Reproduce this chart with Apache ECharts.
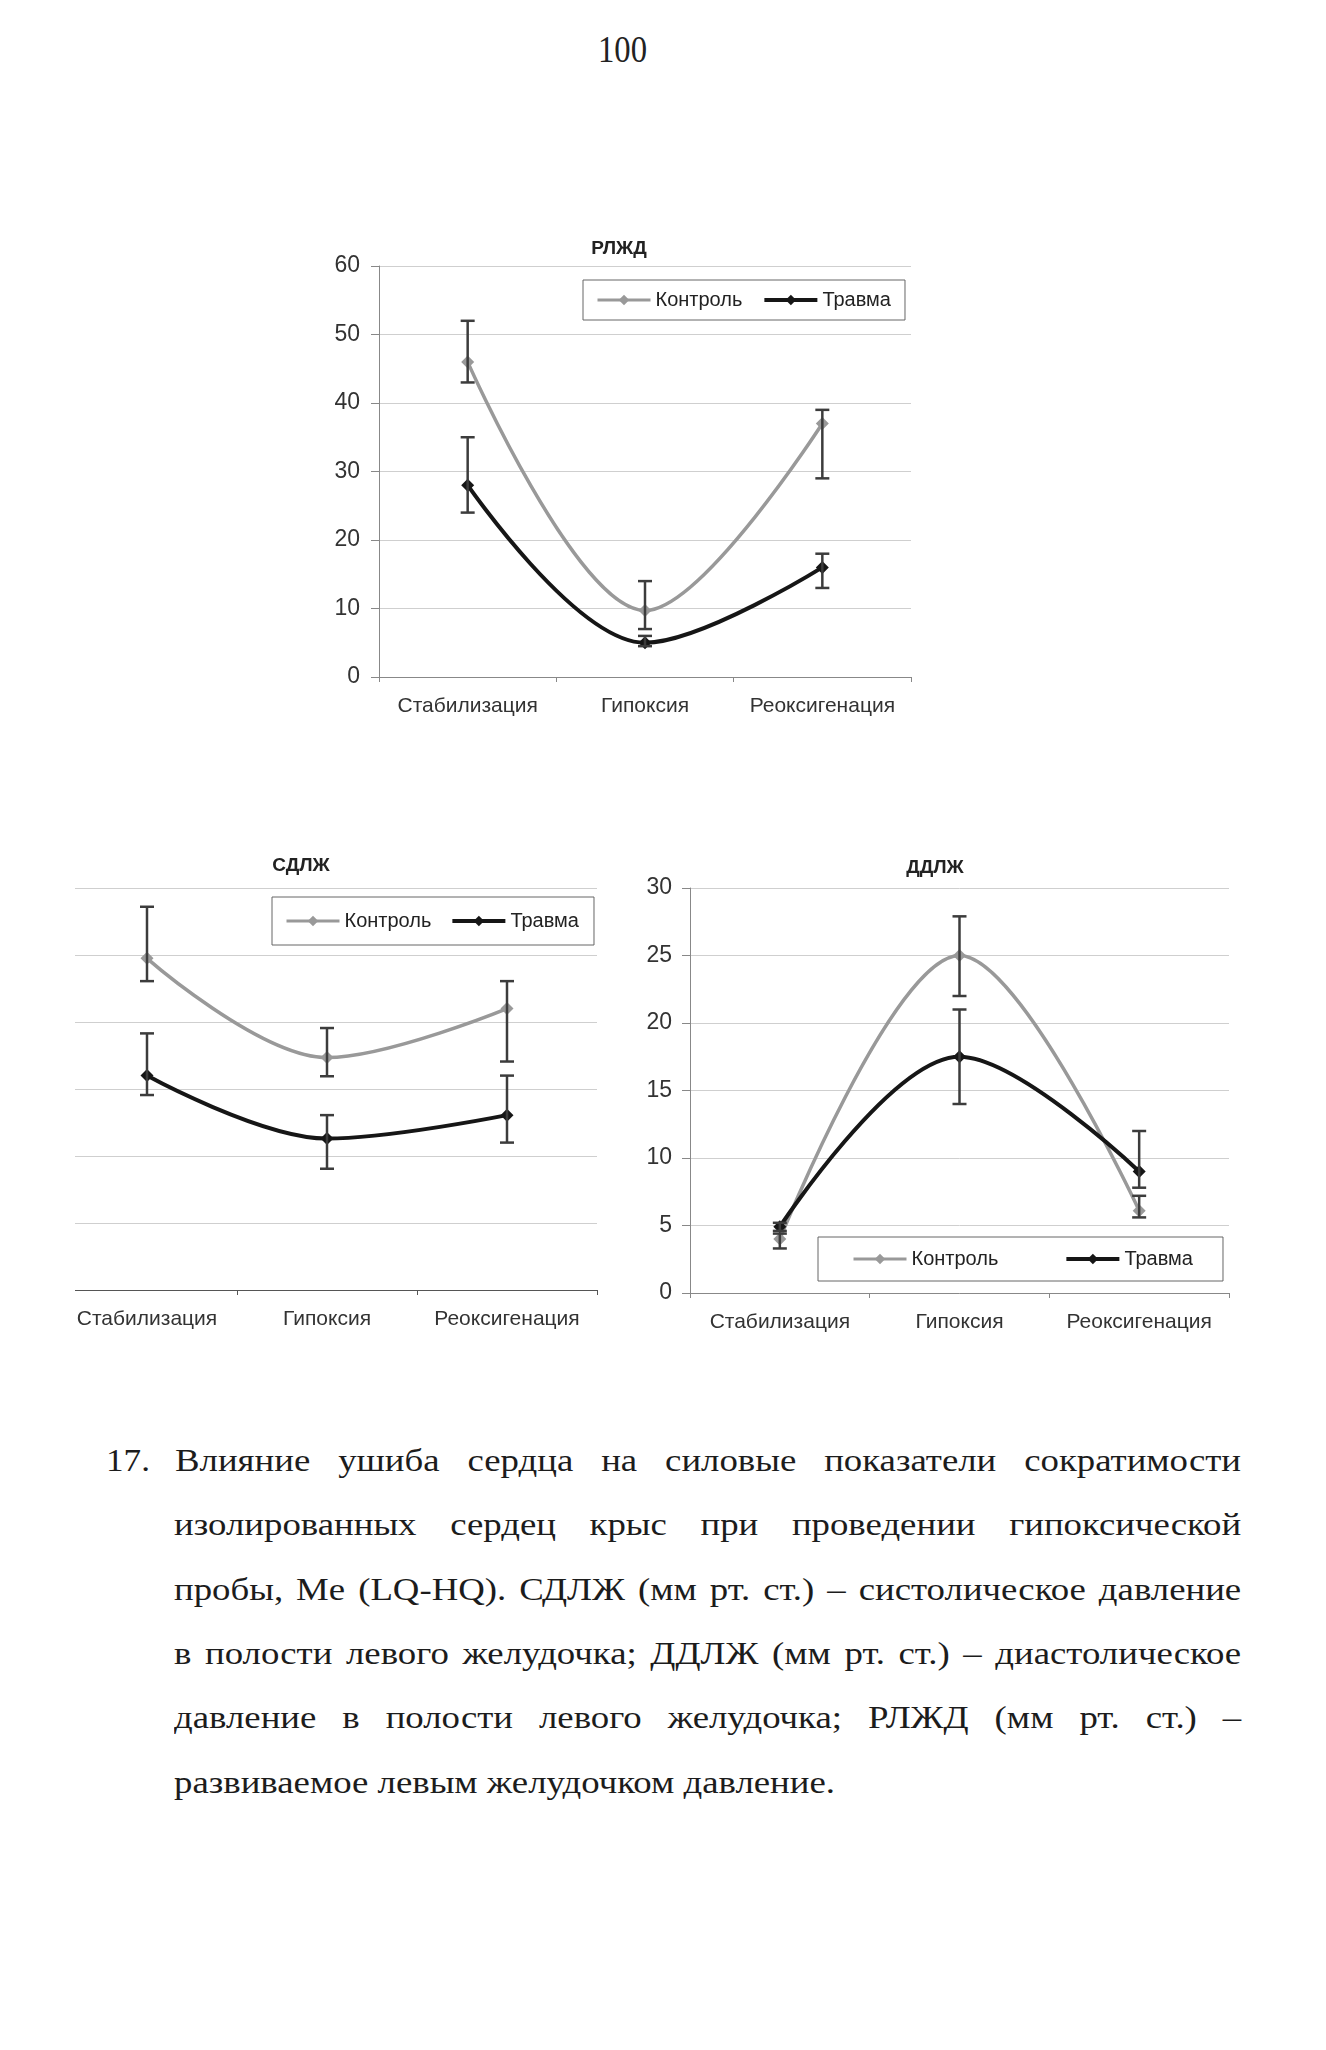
<!DOCTYPE html>
<html>
<head>
<meta charset="utf-8">
<script src="https://cdn.jsdelivr.net/npm/echarts@6/dist/echarts.min.js"></script>
<style>
html,body{margin:0;padding:0;background:#fff;}
#page{position:relative;width:1326px;height:2050px;overflow:hidden;background:#fff;}
#chartA{position:absolute;left:0;top:0;width:1326px;height:1400px;}
#clipB{position:absolute;left:75px;top:840px;width:565px;height:520px;overflow:hidden;}
#chartB{position:absolute;left:-75px;top:0;width:640px;height:520px;}
.pagenum{position:absolute;top:27px;left:598px;font-family:"Liberation Serif",serif;font-size:38px;line-height:44px;color:#222;transform:scaleX(0.86);transform-origin:left top;}
.ln{position:absolute;left:174px;width:928px;font-family:"Liberation Serif",serif;font-size:32px;line-height:40px;color:#1c1c1c;white-space:nowrap;text-align:justify;text-align-last:justify;transform:scaleX(1.15);transform-origin:left top;}
.num{position:absolute;left:106px;font-family:"Liberation Serif",serif;font-size:32px;line-height:40px;color:#1c1c1c;transform:scaleX(1.1);transform-origin:left top;}
</style>
</head>
<body>
<div id="page">
  <div class="pagenum">100</div>
  <div id="chartA"></div>
  <div id="clipB"><div id="chartB"></div></div>
  <div class="num" style="top:1440px">17.</div>
  <div class="ln" style="top:1440px;left:175px;width:927px">Влияние ушиба сердца на силовые показатели сократимости</div>
  <div class="ln" style="top:1504px">изолированных сердец крыс при проведении гипоксической</div>
  <div class="ln" style="top:1569px">пробы, Me (LQ-HQ). СДЛЖ (мм рт. ст.) – систолическое давление</div>
  <div class="ln" style="top:1633px">в полости левого желудочка; ДДЛЖ (мм рт. ст.) – диастолическое</div>
  <div class="ln" style="top:1697px">давление в полости левого желудочка; РЛЖД (мм рт. ст.) –</div>
  <div class="ln" style="top:1762px;text-align:left;text-align-last:left">развиваемое левым желудочком давление.</div>
</div>
<script>
// ---- data ----
const categories = ['Стабилизация', 'Гипоксия', 'Реоксигенация'];
const seriesNames = ['Контроль', 'Травма'];

const rlzhdControl     = [46, 9.7, 37];
const rlzhdControlLow  = [43, 7, 29];
const rlzhdControlHigh = [52, 14, 39];
const rlzhdTrauma      = [28, 5, 16];
const rlzhdTraumaLow   = [24, 4.5, 13];
const rlzhdTraumaHigh  = [35, 6, 18];

const sdlzhControl     = [49.5, 34.7, 42];
const sdlzhControlLow  = [46.1, 31.9, 34.1];
const sdlzhControlHigh = [57.2, 39.1, 46.1];
const sdlzhTrauma      = [32, 22.6, 26.1];
const sdlzhTraumaLow   = [29.1, 18.1, 22];
const sdlzhTraumaHigh  = [38.3, 26.1, 32];

const ddlzhControl     = [4, 25, 6.1];
const ddlzhControlLow  = [3.3, 22, 5.6];
const ddlzhControlHigh = [4.4, 27.9, 7.2];
const ddlzhTrauma      = [4.9, 17.5, 9];
const ddlzhTraumaLow   = [4.6, 14, 7.8];
const ddlzhTraumaHigh  = [5.2, 21, 12];

const rlzhdTicks = {min: 0, max: 60, interval: 10};
const ddlzhTicks = {min: 0, max: 30, interval: 5};
const sdlzhTicks = {min: 0, max: 60, interval: 10};

// ---- styles ----
const FONT = '"Liberation Sans", Arial, sans-serif';
const CONTROL_COLOR = '#999999';
const TRAUMA_COLOR = '#161616';
const ERR_COLOR = '#3c3c3c';

function errRender(params, api) {
  const x = api.value(0);
  const pHi = api.coord([x, api.value(2)]);
  const pLo = api.coord([x, api.value(1)]);
  const hw = 7;
  const st = {stroke: ERR_COLOR, lineWidth: 2.5};
  return {type: 'group', children: [
    {type: 'line', shape: {x1: pHi[0], y1: pHi[1], x2: pLo[0], y2: pLo[1]}, style: st},
    {type: 'line', shape: {x1: pHi[0] - hw, y1: pHi[1], x2: pHi[0] + hw, y2: pHi[1]}, style: st},
    {type: 'line', shape: {x1: pLo[0] - hw, y1: pLo[1], x2: pLo[0] + hw, y2: pLo[1]}, style: st}
  ]};
}
function errData(lo, hi) { return categories.map((c, i) => [i, lo[i], hi[i]]); }
function errSeries(idx, lo, hi) {
  return {type: 'custom', name: 'err', xAxisIndex: idx, yAxisIndex: idx, renderItem: errRender,
    data: errData(lo, hi), encode: {x: 0, y: [1, 2]}, z: 4, silent: true};
}
function lineSeries(idx, name, values, color, width) {
  return {type: 'line', name: name, xAxisIndex: idx, yAxisIndex: idx, data: values,
    smooth: 0.35, symbol: 'diamond', symbolSize: 13,
    lineStyle: {color: color, width: width}, itemStyle: {color: color}, z: 3};
}
function xAx(idx, axisColor) {
  return {type: 'category', gridIndex: idx, data: categories, boundaryGap: true,
    axisLine: {lineStyle: {color: axisColor, width: 1}},
    axisTick: {show: true, length: 5, lineStyle: {color: axisColor}},
    axisLabel: {interval: 0, fontSize: 21, fontFamily: FONT, color: '#333', margin: 19}};
}
function yAx(idx, ticks, showLabels, margin) {
  return {type: 'value', gridIndex: idx, min: ticks.min, max: ticks.max, interval: ticks.interval,
    axisLine: {show: showLabels, lineStyle: {color: '#888'}},
    axisTick: {show: showLabels, length: 8, lineStyle: {color: '#888'}},
    axisLabel: {show: showLabels, fontSize: 23, fontFamily: FONT, color: '#333', margin: margin},
    splitLine: {show: true, lineStyle: {color: '#cfcfcf', width: 1}}};
}
function legend(left, top, pad, gap) {
  return {data: [
      {name: 'Контроль', lineStyle: {width: 3, color: CONTROL_COLOR}},
      {name: 'Травма', lineStyle: {width: 4, color: TRAUMA_COLOR}}
    ], left: left, top: top, padding: pad, itemGap: gap,
    itemWidth: 53, itemHeight: 13, borderColor: '#666', borderWidth: 1,
    selectedMode: false, textStyle: {fontSize: 20, fontFamily: FONT, color: '#222'}};
}
function titleText(x, y, text) {
  return {type: 'text', x: x, y: y, style: {text: text, align: 'center', verticalAlign: 'middle',
    fontSize: 19, fontWeight: 'bold', fontFamily: FONT, fill: '#222'}};
}

// ---- chart A: РЛЖД (top) and ДДЛЖ (bottom right) ----
const chartA = echarts.init(document.getElementById('chartA'), null, {renderer: 'canvas'});
chartA.setOption({
  animation: false,
  backgroundColor: 'transparent',
  grid: [
    {left: 379, top: 266, width: 532, height: 411},
    {left: 690, top: 888, width: 539, height: 405}
  ],
  xAxis: [xAx(0, '#888'), xAx(1, '#888')],
  yAxis: [yAx(0, rlzhdTicks, true, 19), yAx(1, ddlzhTicks, true, 18)],
  legend: [legend(583, 280, [10, 14, 10, 13], 20), legend(818, 1237, [12, 30, 12, 34], 66)],
  graphic: [titleText(619, 249, 'РЛЖД'), titleText(935, 868, 'ДДЛЖ')],
  series: [
    errSeries(0, rlzhdControlLow, rlzhdControlHigh),
    errSeries(0, rlzhdTraumaLow, rlzhdTraumaHigh),
    lineSeries(0, 'Контроль', rlzhdControl, CONTROL_COLOR, 3.5),
    lineSeries(0, 'Травма', rlzhdTrauma, TRAUMA_COLOR, 4),
    errSeries(1, ddlzhControlLow, ddlzhControlHigh),
    errSeries(1, ddlzhTraumaLow, ddlzhTraumaHigh),
    lineSeries(1, 'Контроль', ddlzhControl, CONTROL_COLOR, 3.5),
    lineSeries(1, 'Травма', ddlzhTrauma, TRAUMA_COLOR, 4)
  ]
});

// ---- chart B: СДЛЖ (bottom left, left edge cropped as in the page) ----
const chartB = echarts.init(document.getElementById('chartB'), null, {renderer: 'canvas'});
chartB.setOption({
  animation: false,
  backgroundColor: 'transparent',
  grid: [{left: 57, top: 48, width: 540, height: 402}],
  xAxis: [xAx(0, '#555')],
  yAxis: [yAx(0, sdlzhTicks, false, 10)],
  legend: [legend(272, 57, [14, 15, 14, 13], 19)],
  graphic: [titleText(301, 26, 'СДЛЖ')],
  series: [
    errSeries(0, sdlzhControlLow, sdlzhControlHigh),
    errSeries(0, sdlzhTraumaLow, sdlzhTraumaHigh),
    lineSeries(0, 'Контроль', sdlzhControl, CONTROL_COLOR, 3.5),
    lineSeries(0, 'Травма', sdlzhTrauma, TRAUMA_COLOR, 4)
  ]
});
</script>
</body>
</html>
